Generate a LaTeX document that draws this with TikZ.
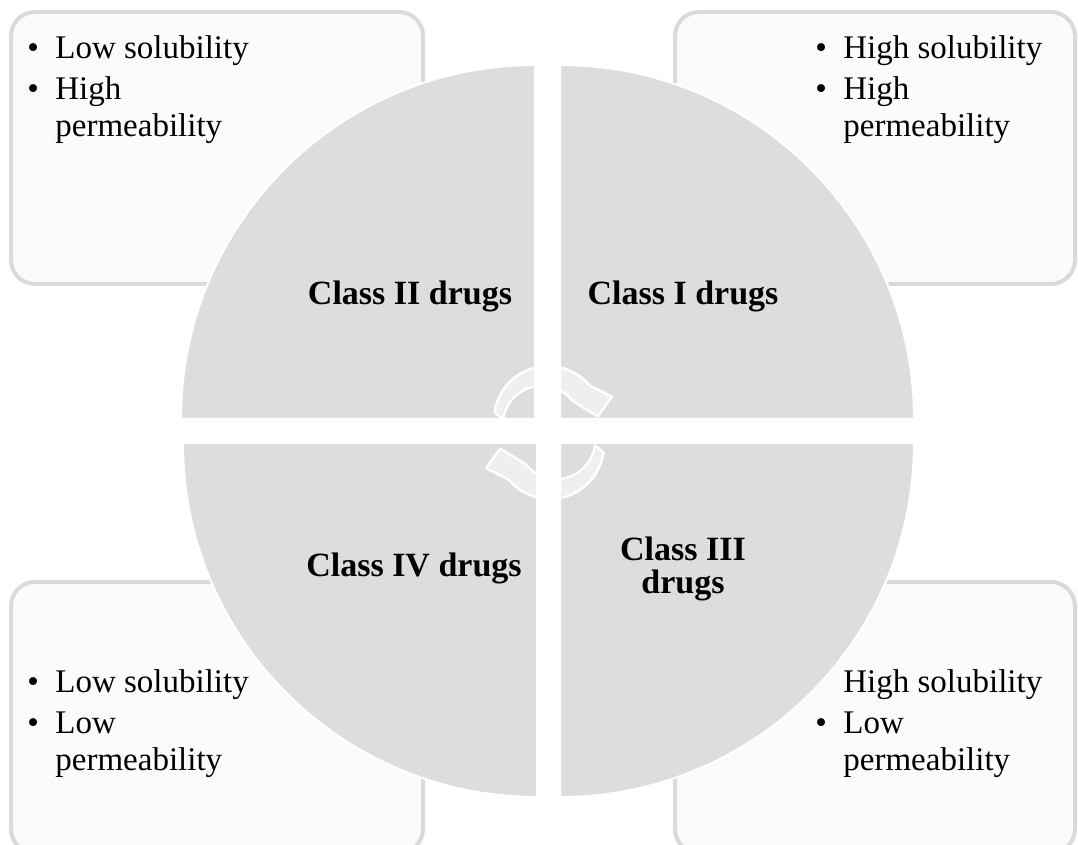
\documentclass[tikz,border=0pt]{standalone}
\usepackage{fontspec}
\setmainfont{Liberation Serif}

\definecolor{quadgray}{RGB}{221,221,221}
\definecolor{boxline}{RGB}{218,218,218}
\definecolor{boxfill}{RGB}{251,251,251}

\tikzset{
  infobox/.style={draw=boxline, fill=boxfill, line width=2pt, rounded corners=12pt},
  quadrant/.style={fill=quadgray, draw=white, line width=1pt},
  cyclearrow/.style={fill=white, fill opacity=0.55, draw=white, line width=1.2pt, line join=round},
  listtext/.style={anchor=base west, inner sep=0pt, font=\fontsize{16.5}{18.5}\selectfont},
  classlabel/.style={inner sep=0pt, align=center, font=\fontsize{17}{16.5}\selectfont\bfseries},
}
\newcommand{\listbullet}{\makebox[14pt][l]{\textbullet}}
\newcommand{\nobullet}{\hspace*{14pt}}

\begin{document}
\begin{tikzpicture}[x=0.5pt, y=0.5pt] % 1 unit = 1 px of the 1078x845 frame, y up
\useasboundingbox (0,0) rectangle (1078,845);
\clip (0,0) rectangle (1078,845);

%% property boxes, behind the circle
\draw[infobox] (11,561) rectangle (423,833);
\draw[infobox] (675,561) rectangle (1075,833);
\draw[infobox] (11,-8) rectangle (423,263);
\draw[infobox] (675,-8) rectangle (1075,263);

%% the four quarters of the circle
\draw[quadrant] (535,426) -- (181,426) arc[start angle=180, end angle=90, radius=354] -- cycle;
\draw[quadrant] (560,426) -- (560,780) arc[start angle=90, end angle=0, radius=354] -- cycle;
\draw[quadrant] (537,402) -- (537,48) arc[start angle=270, end angle=180, radius=354] -- cycle;
\draw[quadrant] (560,402) -- (914,402) arc[start angle=0, end angle=-90, radius=354] -- cycle;

%% cycle arrows in the middle
\begin{scope}[shift={(548,425)}]
\draw[cyclearrow] (172:54) arc[start angle=172, end angle=40, radius=54]
  -- (20:68) -- (4:50) -- (38:31) arc[start angle=38, end angle=172, radius=39] -- cycle;
\end{scope}
\begin{scope}[shift={(550,400)}, rotate=180]
\draw[cyclearrow] (172:54) arc[start angle=172, end angle=40, radius=54]
  -- (20:68) -- (4:50) -- (38:31) arc[start angle=38, end angle=172, radius=39] -- cycle;
\end{scope}

%% class labels
\node[classlabel, anchor=base] (cls2) at (410,540) {Class II drugs};
\node[classlabel, anchor=base] (cls1) at (683,540) {Class I drugs};
\node[classlabel, anchor=base] (cls4) at (414,268) {Class IV drugs};
\node[classlabel, anchor=north] (cls3) at (683,308) {Class III\\drugs};

%% box texts
% top left
\node[listtext] (tl1) at (27,786) {\listbullet Low solubility};
\node[listtext] (tl2) at (27,745) {\listbullet High};
\node[listtext] (tl3) at (27,708) {\nobullet permeability};
% top right
\node[listtext] (tr1) at (815,786) {\listbullet High solubility};
\node[listtext] (tr2) at (815,745) {\listbullet High};
\node[listtext] (tr3) at (815,708) {\nobullet permeability};
% bottom left
\node[listtext] (bl1) at (27,152) {\listbullet Low solubility};
\node[listtext] (bl2) at (27,111) {\listbullet Low};
\node[listtext] (bl3) at (27,74) {\nobullet permeability};
% bottom right (first line has no bullet)
\node[listtext] (br1) at (815,152) {\nobullet High solubility};
\node[listtext] (br2) at (815,111) {\listbullet Low};
\node[listtext] (br3) at (815,74) {\nobullet permeability};

\end{tikzpicture}
\end{document}
